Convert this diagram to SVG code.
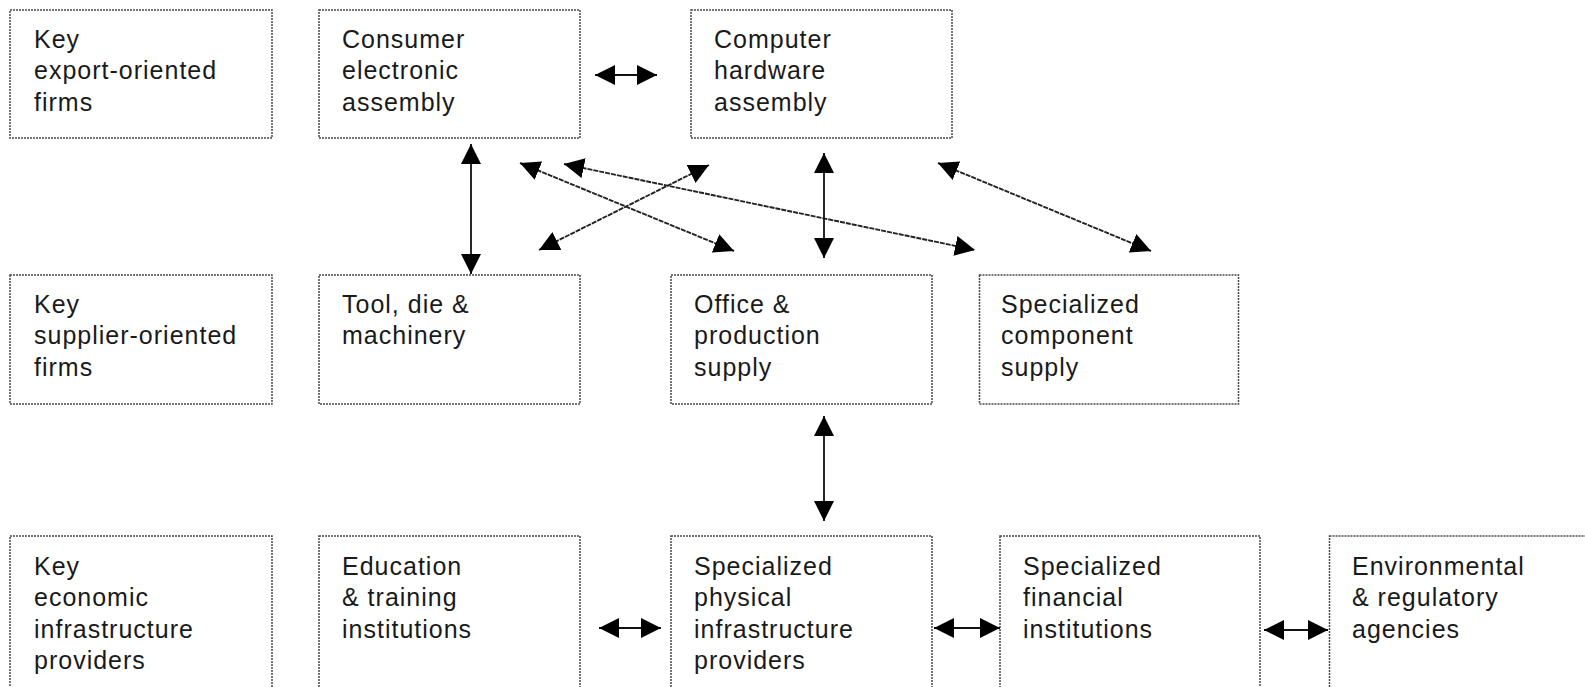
<svg xmlns="http://www.w3.org/2000/svg" width="1585" height="687" viewBox="0 0 1585 687">
  <defs>
    <style>
      .box { fill: #ffffff; stroke: #4a4a4a; stroke-width: 1.5; stroke-dasharray: 2 1; }
      .lbl { font-family: "Liberation Sans", Arial, sans-serif; font-size: 25px; letter-spacing: 1px; fill: #1a1a1a; }
      .con { stroke: #111111; stroke-width: 1.8; fill: none; marker-start: url(#ah); marker-end: url(#ah); }
      .diag { stroke-dasharray: 5 1; stroke-width: 1.9; stroke: #222222; }
    </style>
    <marker id="ah" markerUnits="userSpaceOnUse" markerWidth="20" markerHeight="20" viewBox="0 0 20 20" refX="20" refY="10" orient="auto-start-reverse">
      <path d="M0,0 L20,10 L0,20 Z" fill="#000000"/>
    </marker>
  </defs>
  <rect width="1585" height="687" fill="#ffffff"/>

  <g id="n1"><rect class="box" x="10" y="10" width="262" height="128"/>
    <text class="lbl" x="34" y="47.5">Key</text><text class="lbl" x="34" y="79">export-oriented</text><text class="lbl" x="34" y="110.5">firms</text></g>
  <g id="n2"><rect class="box" x="319" y="10" width="261" height="128"/>
    <text class="lbl" x="342" y="47.5">Consumer</text><text class="lbl" x="342" y="79">electronic</text><text class="lbl" x="342" y="110.5">assembly</text></g>
  <g id="n3"><rect class="box" x="691" y="10" width="261" height="128"/>
    <text class="lbl" x="714" y="47.5">Computer</text><text class="lbl" x="714" y="79">hardware</text><text class="lbl" x="714" y="110.5">assembly</text></g>

  <g id="n4"><rect class="box" x="10" y="275" width="262" height="129"/>
    <text class="lbl" x="34" y="312.5">Key</text><text class="lbl" x="34" y="344">supplier-oriented</text><text class="lbl" x="34" y="375.5">firms</text></g>
  <g id="n5"><rect class="box" x="319" y="275" width="261" height="129"/>
    <text class="lbl" x="342" y="312.5">Tool, die &amp;</text><text class="lbl" x="342" y="344">machinery</text></g>
  <g id="n6"><rect class="box" x="671" y="275" width="261" height="129"/>
    <text class="lbl" x="694" y="312.5">Office &amp;</text><text class="lbl" x="694" y="344">production</text><text class="lbl" x="694" y="375.5">supply</text></g>
  <g id="n7"><rect class="box" x="979.5" y="275" width="259" height="129"/>
    <text class="lbl" x="1001" y="312.5">Specialized</text><text class="lbl" x="1001" y="344">component</text><text class="lbl" x="1001" y="375.5">supply</text></g>

  <g id="n8"><rect class="box" x="10" y="536" width="262" height="200"/>
    <text class="lbl" x="34" y="574.5">Key</text><text class="lbl" x="34" y="606">economic</text><text class="lbl" x="34" y="637.5">infrastructure</text><text class="lbl" x="34" y="669">providers</text></g>
  <g id="n9"><rect class="box" x="319" y="536" width="261" height="200"/>
    <text class="lbl" x="342" y="574.5">Education</text><text class="lbl" x="342" y="606">&amp; training</text><text class="lbl" x="342" y="637.5">institutions</text></g>
  <g id="n10"><rect class="box" x="671" y="536" width="261" height="200"/>
    <text class="lbl" x="694" y="574.5">Specialized</text><text class="lbl" x="694" y="606">physical</text><text class="lbl" x="694" y="637.5">infrastructure</text><text class="lbl" x="694" y="669">providers</text></g>
  <g id="n11"><rect class="box" x="1000" y="536" width="260" height="200"/>
    <text class="lbl" x="1023" y="574.5">Specialized</text><text class="lbl" x="1023" y="606">financial</text><text class="lbl" x="1023" y="637.5">institutions</text></g>
  <g id="n12"><rect class="box" x="1329.5" y="536" width="300" height="200"/>
    <text class="lbl" x="1352" y="574.5">Environmental</text><text class="lbl" x="1352" y="606">&amp; regulatory</text><text class="lbl" x="1352" y="637.5">agencies</text></g>

  <g id="connectors">
    <line class="con" x1="595" y1="75" x2="657" y2="75"/>
    <line class="con" x1="471" y1="144" x2="471" y2="274"/>
    <line class="con diag" x1="520" y1="163" x2="734" y2="251"/>
    <line class="con diag" x1="709" y1="165" x2="539" y2="250"/>
    <line class="con diag" x1="564" y1="164" x2="975" y2="250"/>
    <line class="con" x1="824" y1="153" x2="824" y2="258"/>
    <line class="con diag" x1="938" y1="163" x2="1151" y2="251"/>
    <line class="con" x1="824" y1="416" x2="824" y2="521"/>
    <line class="con" x1="599" y1="628" x2="661" y2="628"/>
    <line class="con" x1="934" y1="628" x2="1000" y2="628"/>
    <line class="con" x1="1264" y1="630" x2="1328" y2="630"/>
  </g>
</svg>
